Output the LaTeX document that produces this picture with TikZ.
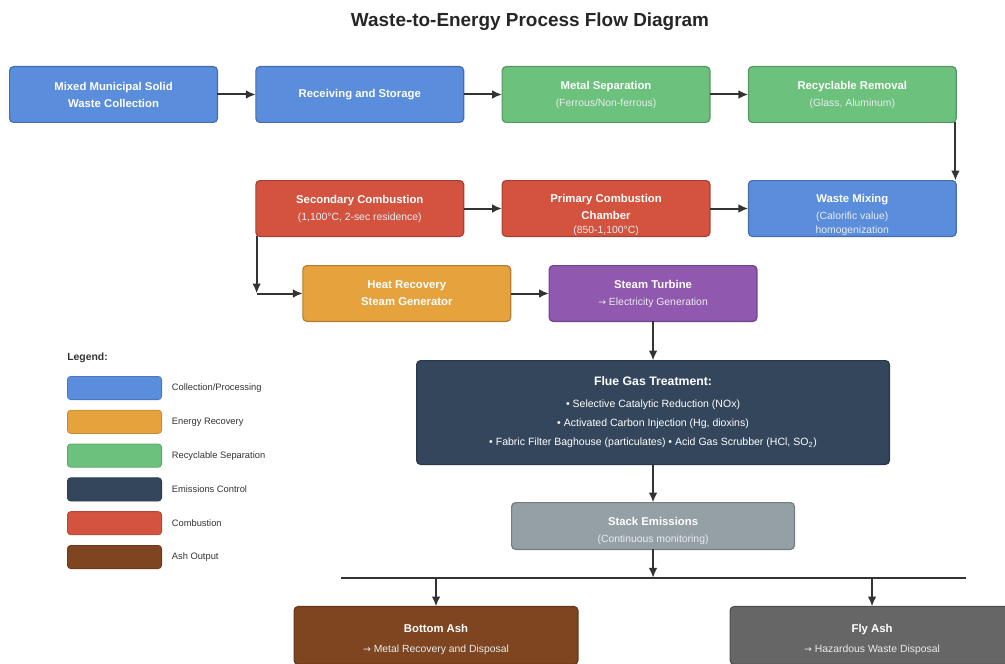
\documentclass[tikz,border=0pt]{standalone}
\usepackage{fontspec}
\setmainfont{Liberation Sans}
\newfontfamily\arrowfont{DejaVu Sans}
\usetikzlibrary{positioning,arrows.meta,calc}

\definecolor{procblue}{HTML}{5A8DDB}
\definecolor{recgreen}{HTML}{6CC17D}
\definecolor{combred}{HTML}{D4533F}
\definecolor{enorange}{HTML}{E6A23C}
\definecolor{turbpurple}{HTML}{9058AE}
\definecolor{emisnavy}{HTML}{34465C}
\definecolor{stackgray}{HTML}{95A0A6}
\definecolor{ashbrown}{HTML}{7E4520}
\definecolor{flygray}{HTML}{666666}
\definecolor{linegray}{HTML}{333333}
\definecolor{subtxt}{HTML}{E9ECEF}

\newcommand{\boxsub}[1]{{\mdseries\color{subtxt}\fontsize{7.8}{10.5}\selectfont #1}}
\newcommand{\toarrow}{{\arrowfont\fontsize{7}{10}\selectfont →}}

\tikzset{
  box/.style={draw=#1!78!black, fill=#1, rounded corners=3pt, line width=0.9pt, outer sep=0pt,
    minimum width=155.85pt, minimum height=41.85pt, align=center, text=white,
    inner sep=2pt, font=\bfseries\fontsize{8.5}{12.75}\selectfont},
  conn/.style={->, line width=1.5pt, draw=linegray},
  swatch/.style={draw=#1!85!black, fill=#1, rounded corners=2.5pt, line width=0.6pt, outer sep=0pt,
    minimum width=70.65pt, minimum height=17.4pt, inner sep=0pt},
  legtext/.style={inner sep=0pt, font=\fontsize{7}{8}\selectfont, text=linegray}
}

\begin{document}
\begin{tikzpicture}[x=0.75pt, y=-0.75pt, node distance=28.85pt, >={Latex[length=7.5pt,width=6.5pt]}]
  \useasboundingbox (0,0) rectangle (1005,663);

  \node[font=\bfseries\fontsize{14.2}{17}\selectfont, text=black!85] (Title) at (530,22) {Waste-to-Energy Process Flow Diagram};

  % top row
  \node[box=procblue] (Collect) at (113.5,94.5) {Mixed Municipal Solid\\Waste Collection};
  \node[box=procblue, right=of Collect] (Receive) {Receiving and Storage};
  \node[box=recgreen, right=of Receive] (Metal) {Metal Separation\\\boxsub{(Ferrous/Non-ferrous)}};
  \node[box=recgreen, right=of Metal] (Recycle) {Recyclable Removal\\\boxsub{(Glass, Aluminum)}};

  % second row, runs right to left
  \node[box=procblue, inner ysep=0pt, below=43.65pt of Recycle] (Mixing) {\rule{0pt}{15.5pt}Waste Mixing\\\boxsub{(Calorific value)}\\[-2.25pt]\boxsub{homogenization}};
  \node[box=combred, inner ysep=0pt, left=of Mixing] (Primary) {\rule{0pt}{15.5pt}Primary Combustion\\Chamber\\[-2.25pt]\boxsub{(850-1,100°C)}};
  \node[box=combred, left=of Primary] (Secondary) {Secondary Combustion\\\boxsub{(1,100°C, 2-sec residence)}};

  % energy recovery
  \node[box=turbpurple, below=21.9pt of Primary, xshift=35.25pt] (Turbine) {Steam Turbine\\\boxsub{\toarrow\ Electricity Generation}};
  \node[box=enorange, left=of Turbine] (HRSG) {Heat Recovery\\Steam Generator};

  % emissions
  \node[box=emisnavy, minimum width=354.6pt, minimum height=77.85pt, below=29.4pt of Turbine,
        font=\fontsize{7.9}{14.25}\selectfont] (Flue)
        {{\bfseries\fontsize{9.2}{14.25}\selectfont Flue Gas Treatment:}\\[2.25pt]
         • Selective Catalytic Reduction (NOx)\\
         • Activated Carbon Injection (Hg, dioxins)\\
         • Fabric Filter Baghouse (particulates) • Acid Gas Scrubber (HCl, SO\textsubscript{2})};
  \node[box=stackgray, minimum width=212.1pt, minimum height=35.1pt, below=28.65pt of Flue] (Stack)
        {\rule{0pt}{13.75pt}Stack Emissions\\\boxsub{(Continuous monitoring)}};

  % ash outputs
  \coordinate[below=21.4pt of Stack] (Bus);
  \node[box=ashbrown, minimum width=212.85pt, minimum height=43.35pt, below=21.45pt of Bus, xshift=-162.75pt] (BAsh)
        {\rule{0pt}{12pt}Bottom Ash\\[2.25pt]\boxsub{\toarrow\ Metal Recovery and Disposal}};
  \node[box=flygray, minimum width=212.85pt, minimum height=43.35pt, below=21.45pt of Bus, xshift=164.25pt] (FAsh)
        {\rule{0pt}{12pt}Fly Ash\\[2.25pt]\boxsub{\toarrow\ Hazardous Waste Disposal}};

  % connectors
  \draw[conn] (Collect) -- (Receive);
  \draw[conn] (Receive) -- (Metal);
  \draw[conn] (Metal) -- (Recycle);
  \draw[conn] ([xshift=-0.6pt]Recycle.south east) -- ([xshift=-0.6pt]Mixing.north east);
  \draw[conn] (Secondary) -- (Primary);
  \draw[conn] (Primary) -- (Mixing);
  \coordinate (Turn) at ([xshift=0.6pt]Secondary.south west |- HRSG.west);
  \draw[conn] ([xshift=0.6pt]Secondary.south west) -- (Turn);
  \draw[conn] (Turn) -- (HRSG);
  \draw[conn] (HRSG) -- (Turbine);
  \draw[conn] (Turbine) -- (Flue);
  \draw[conn] (Flue) -- (Stack);
  \draw[conn] (Stack) -- (Bus);
  \draw[line width=1.5pt, linegray] ([xshift=-234pt]Bus) -- ([xshift=234.75pt]Bus);
  \draw[conn] (Bus -| BAsh) -- (BAsh);
  \draw[conn] (Bus -| FAsh) -- (FAsh);

  % legend
  \node[anchor=west, inner sep=0pt, font=\bfseries\fontsize{7.8}{9}\selectfont, text=linegray] (LegTitle) at (67,358) {Legend:};
  \node[swatch=procblue] (LegA) at (114.5,388) {};
  \node[swatch=enorange, below=7.95pt of LegA] (LegB) {};
  \node[swatch=recgreen, below=7.95pt of LegB] (LegC) {};
  \node[swatch=emisnavy, below=7.95pt of LegC] (LegD) {};
  \node[swatch=combred, below=7.95pt of LegD] (LegE) {};
  \node[swatch=ashbrown, below=7.95pt of LegE] (LegF) {};
  \node[legtext, right=7.5pt of LegA] (LegAtxt) {Collection/Processing};
  \node[legtext, right=7.5pt of LegB] (LegBtxt) {Energy Recovery};
  \node[legtext, right=7.5pt of LegC] (LegCtxt) {Recyclable Separation};
  \node[legtext, right=7.5pt of LegD] (LegDtxt) {Emissions Control};
  \node[legtext, right=7.5pt of LegE] (LegEtxt) {Combustion};
  \node[legtext, right=7.5pt of LegF] (LegFtxt) {Ash Output};
\end{tikzpicture}
\end{document}
